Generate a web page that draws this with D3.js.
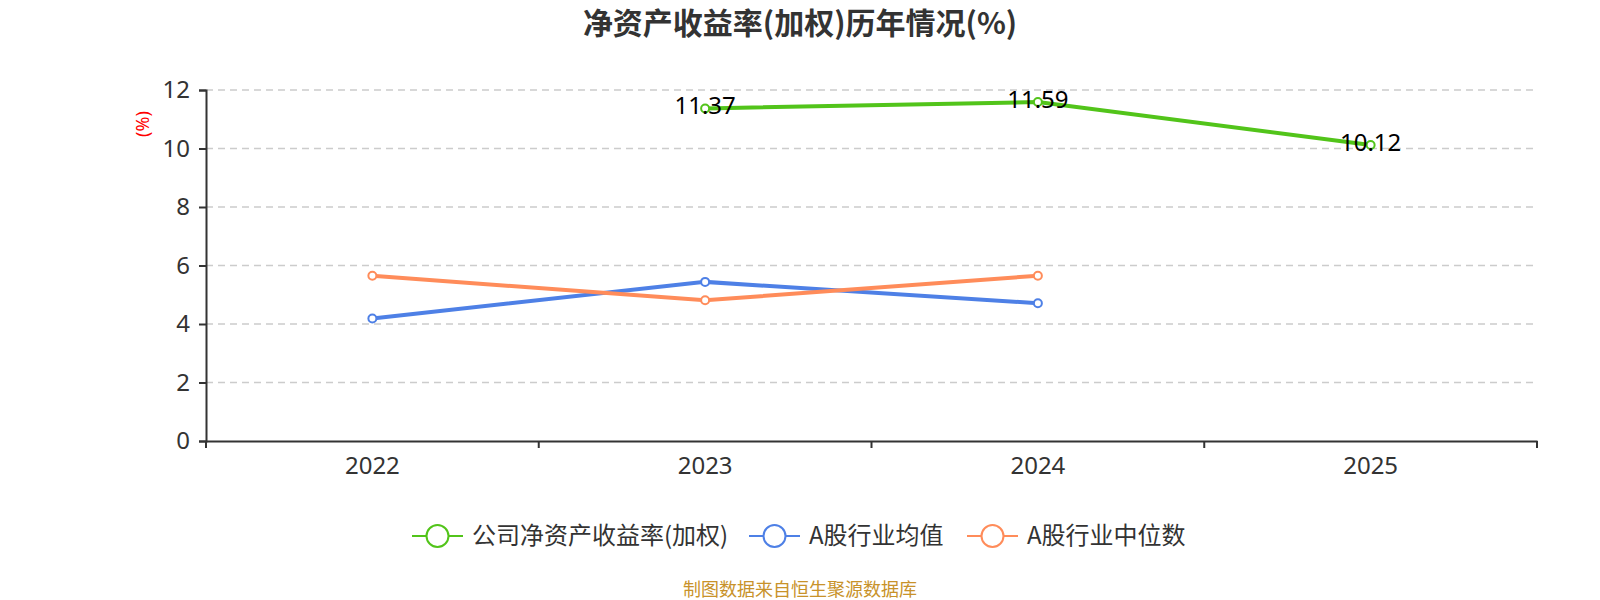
<!DOCTYPE html>
<html>
<head>
<meta charset="utf-8">
<script src="https://cdn.jsdelivr.net/npm/d3@7"></script>
<style>
  body { margin: 0; background: #fff; }
  text { font-family: "Noto Sans", "Noto Sans CJK SC", sans-serif; }
</style>
</head>
<body>
<div id="chart"></div>
<script>
// chart data
const years = ["2022", "2023", "2024", "2025"];
const companyRoe = [null, 11.37, 11.59, 10.12];
const industryMean = [4.19, 5.44, 4.71, null];
const industryMedian = [5.65, 4.81, 5.65, null];
const yTicks = [0, 2, 4, 6, 8, 10, 12];

const seriesNames = ["公司净资产收益率(加权)", "A股行业均值", "A股行业中位数"];
const seriesColors = ["#52c41a", "#4e80e6", "#ff8c5a"];

const W = 1600, H = 600;
const margin = {top: 90, right: 63, bottom: 159, left: 206};
const width = W - margin.left - margin.right;
const height = H - margin.top - margin.bottom;

const svg = d3.select("#chart").append("svg")
    .attr("width", W)
    .attr("height", H);

// title
svg.append("text")
    .attr("x", 800).attr("y", 34)
    .attr("text-anchor", "middle")
    .style("font-family", "'Noto Sans CJK SC', sans-serif")
    .style("font-size", "30px")
    .style("font-weight", "bold")
    .style("fill", "#333")
    .text("净资产收益率(加权)历年情况(%)");

const g = svg.append("g")
    .attr("transform", `translate(${margin.left},${margin.top})`);

const x = d3.scaleBand().domain(years).range([0, width]);
const y = d3.scaleLinear().domain([0, 12]).range([height, 0]);

// grid lines
g.selectAll(".grid")
  .data(yTicks.filter(d => d > 0))
  .enter().append("line")
    .attr("x1", 0).attr("x2", width)
    .attr("y1", d => y(d)).attr("y2", d => y(d))
    .attr("stroke", "#ccc")
    .attr("stroke-width", 1.5)
    .attr("stroke-dasharray", "7,5");

// y axis
const yAxis = g.append("g")
    .call(d3.axisLeft(y).tickValues(yTicks).tickSize(7).tickPadding(9));
yAxis.select(".domain").attr("stroke", "#333").attr("stroke-width", 2);
yAxis.selectAll(".tick line").attr("stroke", "#333").attr("stroke-width", 2);
yAxis.selectAll(".tick text")
    .style("font-size", "24px").style("fill", "#333");

// x axis, ticks at band boundaries
const xAxis = g.append("g")
    .attr("transform", `translate(0,${height})`)
    .call(d3.axisBottom(x).tickSize(0).tickPadding(16));
xAxis.select(".domain").attr("stroke", "#333").attr("stroke-width", 2);
xAxis.selectAll(".tick text")
    .style("font-size", "24px").style("fill", "#333");
const bounds = years.map(d => x(d)).concat([width]);
xAxis.selectAll(".bound")
  .data(bounds)
  .enter().append("line")
    .attr("x1", d => d).attr("x2", d => d)
    .attr("y1", 0).attr("y2", 7)
    .attr("stroke", "#333").attr("stroke-width", 2);

// y axis name
svg.append("text")
    .attr("transform", "translate(149,124) rotate(-90)")
    .attr("text-anchor", "middle")
    .style("font-size", "18px")
    .style("fill", "red")
    .text("(%)");

const cx = d => x(d) + x.bandwidth() / 2;
const allSeries = [companyRoe, industryMean, industryMedian];

allSeries.forEach((vals, i) => {
  const pts = years.map((yr, j) => ({yr, v: vals[j]})).filter(p => p.v != null);
  const line = d3.line().x(p => cx(p.yr)).y(p => y(p.v));
  g.append("path")
    .datum(pts)
    .attr("d", line)
    .attr("fill", "none")
    .attr("stroke", seriesColors[i])
    .attr("stroke-width", 4);
  g.selectAll(".pt" + i)
    .data(pts)
    .enter().append("circle")
      .attr("cx", p => cx(p.yr))
      .attr("cy", p => y(p.v))
      .attr("r", 4)
      .attr("fill", "#fff")
      .attr("stroke", seriesColors[i])
      .attr("stroke-width", 2);
});

// value labels for company series
const labelPts = years.map((yr, j) => ({yr, v: companyRoe[j]})).filter(p => p.v != null);
g.selectAll(".lbl")
  .data(labelPts)
  .enter().append("text")
    .attr("x", p => cx(p.yr))
    .attr("y", p => y(p.v))
    .attr("dy", "0.24em")
    .attr("text-anchor", "middle")
    .style("font-size", "24px")
    .style("fill", "#000")
    .text(p => p.v.toFixed(2));

// legend
const legendY = 536;
const legendX = [412, 749, 967];
seriesNames.forEach((name, i) => {
  const lg = svg.append("g").attr("transform", `translate(${legendX[i]},${legendY})`);
  lg.append("line")
    .attr("x1", 0).attr("x2", 51)
    .attr("stroke", seriesColors[i]).attr("stroke-width", 2);
  lg.append("circle")
    .attr("cx", 25.5).attr("r", 11)
    .attr("fill", "#fff")
    .attr("stroke", seriesColors[i]).attr("stroke-width", 2);
  lg.append("text")
    .attr("x", 60).attr("dy", "0.35em")
    .style("font-family", "'Noto Sans CJK SC', sans-serif")
    .style("font-size", "24px")
    .style("fill", "#333")
    .text(name);
});

// source note
svg.append("text")
    .attr("x", 800).attr("y", 596)
    .attr("text-anchor", "middle")
    .style("font-family", "'Noto Sans CJK SC', sans-serif")
    .style("font-size", "18px")
    .style("fill", "#c8922a")
    .text("制图数据来自恒生聚源数据库");
</script>
</body>
</html>
